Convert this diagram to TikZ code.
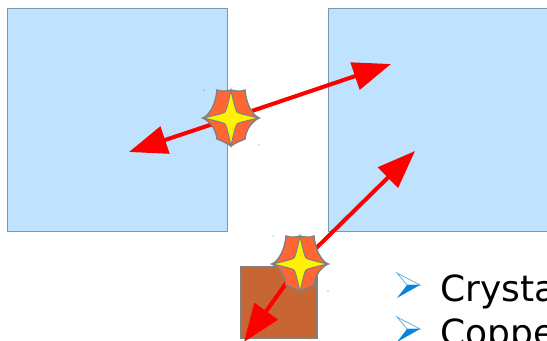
\documentclass[tikz,border=0pt]{standalone}
\usepackage{fontspec}
\setmainfont{DejaVu Sans}
\usepackage{tikz}
\usetikzlibrary{positioning, arrows.meta}
\definecolor{panelblue}{HTML}{BFE2FF}
\definecolor{panelline}{HTML}{7F97AB}
\definecolor{copperfill}{HTML}{C86633}
\definecolor{burstorange}{HTML}{FF6633}
\definecolor{bulletblue}{HTML}{0A84D8}
\tikzset{
  panel/.style={draw=panelline, fill=panelblue, line width=0.4pt},
  hit/.style={draw=red, line width=2.3pt, -{Triangle[length=0.76cm, width=0.56cm]}},
  burst/.pic={
    \draw[fill=burstorange, draw=gray, line width=0.8pt]
      (-28,0) .. controls (-20,-4) and (-15,-16) .. (-14,-28)
      .. controls (-8,-26) and (-4,-27) .. (0,-28)
      .. controls (4,-27) and (9,-26) .. (14,-28)
      .. controls (15,-16) and (20,-4) .. (28,0)
      .. controls (20,4) and (15,12) .. (14,21)
      .. controls (9,23) and (4,25) .. (0,28)
      .. controls (-4,25) and (-9,23) .. (-14,21)
      .. controls (-15,12) and (-20,4) .. (-28,0) -- cycle;
    \draw[fill=yellow, draw=gray, line width=0.6pt]
      (-28,0) .. controls (-14,-3) and (-7,-5) .. (-6,-6)
      .. controls (-5,-7) and (-3,-14) .. (0,-28)
      .. controls (3,-14) and (5,-7) .. (6,-6)
      .. controls (7,-5) and (14,-3) .. (28,0)
      .. controls (14,3) and (7,5) .. (6,6)
      .. controls (5,7) and (3,14) .. (0,28)
      .. controls (-3,14) and (-5,7) .. (-6,6)
      .. controls (-7,5) and (-14,3) .. (-28,0) -- cycle;
    \fill[gray] (-27,-28) circle (0.4pt) (28,27) circle (0.4pt);
  },
  bullet/.pic={
    \draw[bulletblue!70, fill=white, line width=0.4pt]
      (0,-12) -- (23,0) -- (10,0) -- cycle;
    \fill[bulletblue] (0,13) -- (23,0) -- (10,0) -- cycle;
  },
  item/.style={anchor=base west, inner sep=0pt, font=\fontsize{20.5pt}{24pt}\selectfont}
}
\begin{document}
\begin{tikzpicture}[x=0.02cm, y=-0.02cm]
    \useasboundingbox (0,0) rectangle (547,341);
    \clip (0,0) rectangle (547,341);
    \draw[panel] (7,8) rectangle (227,231);
    \draw[panel] (328,8) rectangle (560,231);
    \draw[draw=gray, fill=copperfill, line width=0.6pt] (241,267) rectangle (317,338);

    \node[inner sep=0pt] (burstA) at (231,118) {};
    \node[inner sep=0pt] (burstB) at (300,264) {};
    \coordinate (tipA) at (391,64);
    \coordinate (tipB) at (129,152);
    \coordinate (tipC) at (415,151);
    \coordinate (tipD) at (244,342);

    \draw[hit] (burstA.center) -- (tipA);
    \draw[hit] (burstA.center) -- (tipB);
    \draw[hit] (burstB.center) -- (tipC);
    \draw[hit] (burstB.center) -- (tipD);

    \pic at (burstA) {burst};
    \pic at (burstB) {burst};

    \pic at (397,285) {bullet};
    \pic at (397,329) {bullet};
    \node[item] (crystal) at (440,301) {Crysta};
    \node[item] (copper) at (440,345) {Coppe};
  \end{tikzpicture}
\end{document}
